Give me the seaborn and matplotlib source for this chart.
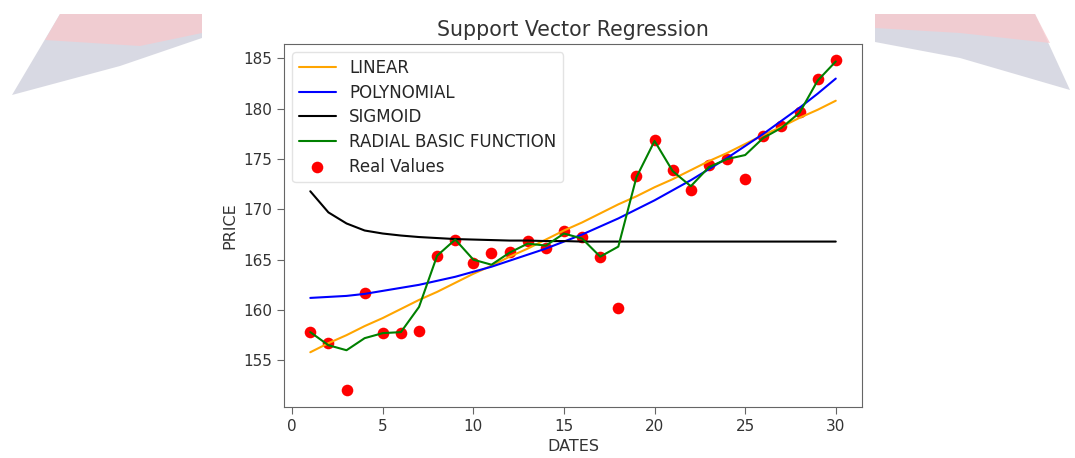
# SVR chart rebuilt with seaborn
import numpy as np
import pandas as pd
import seaborn as sns
import matplotlib.pyplot as plt
from matplotlib.patches import Polygon

# DATA
dates = list(range(1, 31))
real_values = [157.8, 156.7, 152.0, 161.7, 157.7, 157.7, 157.9, 165.4, 167.0, 164.7,
               165.7, 165.8, 166.9, 166.2, 167.9, 167.3, 165.3, 160.2, 173.3, 176.9,
               173.9, 171.9, 174.4, 175.0, 173.0, 177.3, 178.3, 179.7, 183.0, 184.8]
linear_pred = [155.8, 156.7, 157.5, 158.4, 159.2, 160.1, 161.0, 161.8, 162.7, 163.6,
               164.4, 165.3, 166.1, 167.0, 167.9, 168.7, 169.6, 170.5, 171.3, 172.2,
               173.0, 173.9, 174.8, 175.6, 176.5, 177.4, 178.2, 179.1, 179.9, 180.8]
poly_pred = [161.2, 161.3, 161.4, 161.6, 161.9, 162.2, 162.5, 162.9, 163.3, 163.8,
             164.3, 164.9, 165.5, 166.1, 166.8, 167.5, 168.3, 169.1, 170.0, 170.9,
             171.9, 172.9, 174.0, 175.1, 176.3, 177.5, 178.8, 180.1, 181.5, 183.0]
sigmoid_pred = [171.8, 169.7, 168.6, 167.9, 167.6, 167.4, 167.25, 167.15, 167.05, 167.0,
                166.95, 166.9, 166.9, 166.85, 166.85, 166.8, 166.8, 166.8, 166.8, 166.8,
                166.8, 166.8, 166.8, 166.8, 166.8, 166.8, 166.8, 166.8, 166.8, 166.8]
rbf_pred = [157.8, 156.5, 156.0, 157.2, 157.7, 157.8, 160.3, 165.4, 167.0, 165.0,
            164.5, 165.7, 166.6, 166.4, 167.6, 167.1, 165.3, 166.3, 173.2, 176.8,
            173.8, 172.3, 174.2, 175.0, 175.4, 177.1, 178.1, 179.6, 182.8, 184.7]

df = pd.DataFrame({"Date": dates, "Real": real_values, "Linear": linear_pred,
                   "Poly": poly_pred, "Sigmoid": sigmoid_pred, "RBF": rbf_pred})

# STYLE
sns.set_style("ticks")
plt.rcParams["font.family"] = ["DejaVu Sans"]
plt.rcParams["axes.edgecolor"] = "#666666"
plt.rcParams["xtick.color"] = "#666666"
plt.rcParams["ytick.color"] = "#666666"
plt.rcParams["xtick.labelcolor"] = "#333333"
plt.rcParams["ytick.labelcolor"] = "#333333"

fig = plt.figure(figsize=(10.75, 4.58), dpi=100)

# faded corner decorations from the page background
fig.patches.append(Polygon([[60, 444], [202, 444], [202, 420], [120, 392], [12, 363]],
                           closed=True, transform=None, facecolor="#cfd0dc",
                           edgecolor="none", alpha=0.8, zorder=0))
fig.patches.append(Polygon([[60, 444], [202, 444], [202, 425], [140, 412], [45, 418]],
                           closed=True, transform=None, facecolor="#f7c9cd",
                           edgecolor="none", alpha=0.8, zorder=0))
fig.patches.append(Polygon([[875, 444], [1035, 444], [1070, 368], [960, 400], [875, 416]],
                           closed=True, transform=None, facecolor="#cfd0dc",
                           edgecolor="none", alpha=0.8, zorder=0))
fig.patches.append(Polygon([[875, 444], [1035, 444], [1050, 415], [960, 425], [875, 430]],
                           closed=True, transform=None, facecolor="#f7c9cd",
                           edgecolor="none", alpha=0.8, zorder=0))

ax = fig.add_axes([0.2642, 0.1114, 0.5377, 0.7926])

sns.scatterplot(x="Date", y="Real", data=df, color="red", s=70, linewidth=0,
                label="Real Values", ax=ax, zorder=1)
sns.lineplot(x="Date", y="Linear", data=df, color="orange", linewidth=1.5,
             label="LINEAR", ax=ax, zorder=3)
sns.lineplot(x="Date", y="Poly", data=df, color="blue", linewidth=1.5,
             label="POLYNOMIAL", ax=ax, zorder=3)
sns.lineplot(x="Date", y="Sigmoid", data=df, color="black", linewidth=1.5,
             label="SIGMOID", ax=ax, zorder=3)
sns.lineplot(x="Date", y="RBF", data=df, color="green", linewidth=1.5,
             label="RADIAL BASIC FUNCTION", ax=ax, zorder=3)

ax.margins(0.05)
ax.set_xticks([0, 5, 10, 15, 20, 25, 30])
ax.set_yticks([155, 160, 165, 170, 175, 180, 185])
ax.tick_params(labelsize=11, length=5)
ax.set_title("Support Vector Regression", fontsize=14.8, color="#333333")
ax.set_xlabel("DATES", fontsize=11.5, color="#333333")
ax.set_ylabel("PRICE", fontsize=11.5, color="#333333")

# lines first, real values last (like the reference)
handles, labels = ax.get_legend_handles_labels()
order = [1, 2, 3, 4, 0]
ax.legend([handles[i] for i in order], [labels[i] for i in order],
          loc="upper left", fontsize=12, labelspacing=0.4, handlelength=2.2,
          frameon=True, edgecolor="#dddddd", fancybox=True)

fig.savefig("out.png", dpi=100)
print("Saved out.png")
